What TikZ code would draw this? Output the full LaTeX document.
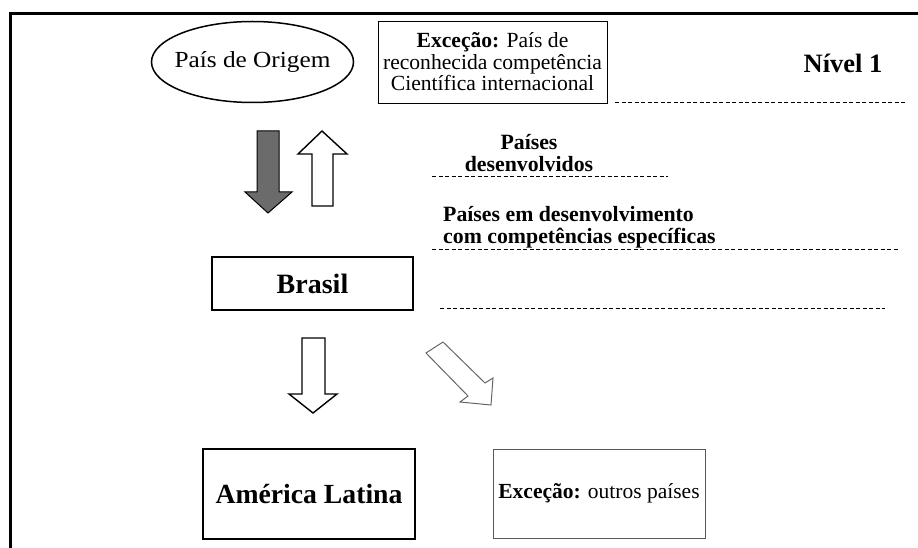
\documentclass[tikz,border=0pt]{standalone}
\usepackage{fontspec}
\setmainfont{Liberation Serif}
\usetikzlibrary{shapes.geometric}
\begin{document}
\begin{tikzpicture}[x=1pt, y=-1pt,
  caixa/.style={draw, rectangle, inner sep=0pt},
  texto/.style={font=\fontsize{21.8}{21.5}\selectfont\bfseries, inner sep=0pt},
  nivelseta/.style={draw, line width=1.4pt, line join=miter},
  divisa/.style={dashed, dash pattern=on 4pt off 2.5pt, line width=.6pt}]
\useasboundingbox (0,0) rectangle (918,548);
\draw[line width=3pt](918,14)--(10,14)--(10,548);

\node[inner sep=0pt, font=\fontsize{23}{26}\selectfont] (origem) at (252.5,62) {\scalebox{1.1}[1]{País de Origem}};
\draw[line width=1.5pt](origem.center) ellipse [x radius=101, y radius=40.5];
\node[caixa, line width=.9pt, minimum width=229, minimum height=82, align=center,
  font=\fontsize{21.6}{21.5}\selectfont] (excPais) at (492.5,62)
  {\textbf{Exceção:} País de\\reconhecida competência\\Científica internacional};
\node[texto, font=\fontsize{26.5}{28}\selectfont\bfseries] (nivel) at (843,63) {Nível 1};
\node[texto, align=center] (desenv) at (529,153) {Países\\desenvolvidos};
\node[texto, align=left, anchor=west] (emDesenv) at (443,227)
  {Países em desenvolvimento\\com competências específicas};
\node[caixa, line width=2pt, minimum width=201, minimum height=53,
  font=\fontsize{28}{30}\selectfont\bfseries] (brasil) at (312.5,283.5) {Brasil};
\node[caixa, line width=2.5pt, minimum width=212, minimum height=90,
  font=\fontsize{27.7}{30}\selectfont\bfseries] (americaLatina) at (309,494) {América Latina};
\node[caixa, draw=black!65, line width=1pt, minimum width=212, minimum height=89,
  font=\fontsize{21.5}{22}\selectfont] (excOutros) at (599,493.5) {\textbf{Exceção:} outros países};

\draw[divisa](615,102)--(907,102);
\draw[divisa](432,176)--(668,176);
\draw[divisa](432,249)--(898,249);
\draw[divisa](440,308)--(885,308);

\draw[nivelseta, fill=black!58, line width=1pt](257,131)--(279,131)--(279,192)--(292,192)--(268,213)--(245,192)--(257,192)--cycle;
\draw[nivelseta](312,206)--(333,206)--(333,154)--(347,154)--(322,131)--(298,154)--(312,154)--cycle;
\draw[nivelseta](302,338)--(325,338)--(325,394)--(337,394)--(313,413)--(289,394)--(302,394)--cycle;
\draw[nivelseta, draw=black!60, line width=1pt](426,353)--(443,342)--(485,383)--(493,378)--(491,405)--(460,402)--(468,396)--cycle;

\end{tikzpicture}
\end{document}
